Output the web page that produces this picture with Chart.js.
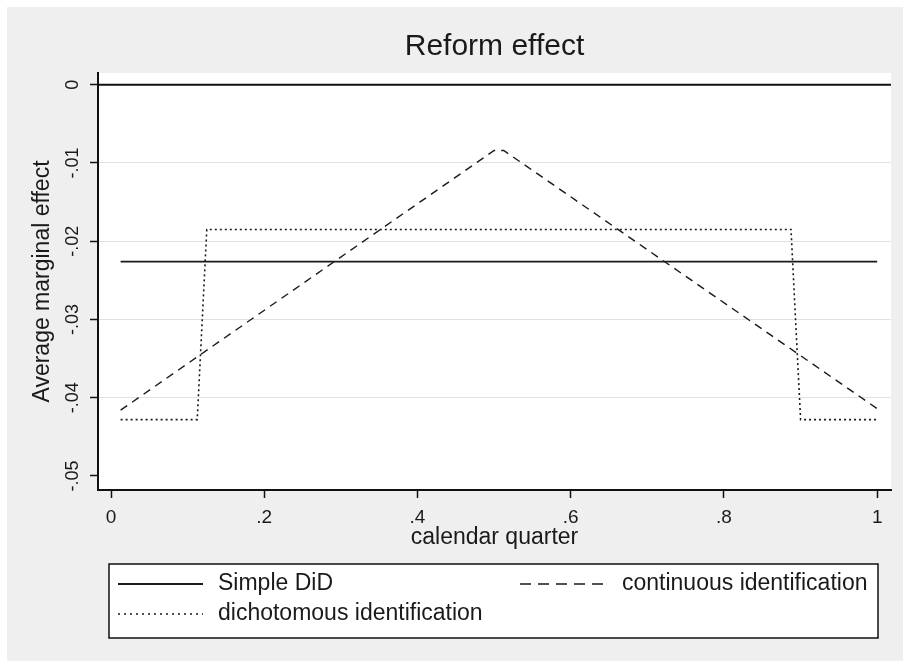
<!DOCTYPE html>
<html><head><meta charset="utf-8">
<script src="https://cdn.jsdelivr.net/npm/chart.js@4.4.1/dist/chart.umd.min.js"></script>
<style>html,body{margin:0;padding:0;background:#fff;overflow:hidden}#wrap{width:903px;height:661px}</style>
</head><body><div id="wrap"><canvas id="c" width="903" height="661"></canvas></div>
<script>
const chartTitle = "Reform effect";
const xAxisTitle = "calendar quarter";
const yAxisTitle = "Average marginal effect";
const xTickValues = [0, 0.2, 0.4, 0.6, 0.8, 1];
const xTickLabels = ["0", ".2", ".4", ".6", ".8", "1"];
const yTickValues = [0, -0.01, -0.02, -0.03, -0.04, -0.05];
const yTickLabels = ["0", "-.01", "-.02", "-.03", "-.04", "-.05"];
const seriesNames = ["Simple DiD", "continuous identification", "dichotomous identification"];
const simpleX = [0.0125, 1];
const simpleY = [-0.0226, -0.0226];
const contX = [0.0125, 0.5, 0.5125, 1];
const contY = [-0.0416, -0.0084, -0.0084, -0.0414];
const dichX = [0.0125, 0.1125, 0.125, 0.8875, 0.9, 1];
const dichY = [-0.0428, -0.0428, -0.0185, -0.0185, -0.0428, -0.0428];
const refLineY = 0;

const FONT = '"Liberation Sans", Arial, sans-serif';
const toPts = (xs, ys) => xs.map((x, i) => ({x: x, y: ys[i]}));

const decor = {
  id: 'decor',
  beforeDraw(chart) {
    const ctx = chart.ctx, a = chart.chartArea;
    ctx.save();
    ctx.fillStyle = '#ffffff';
    ctx.fillRect(0, 0, chart.width, chart.height);
    ctx.fillStyle = '#efefef';
    ctx.fillRect(7, 7, chart.width - 7, chart.height - 7);
    ctx.fillStyle = '#ffffff';
    ctx.fillRect(a.left, a.top, a.right - a.left, a.bottom - a.top);
    ctx.restore();
  },
  beforeDatasetsDraw(chart) {
    const ctx = chart.ctx, a = chart.chartArea, y = chart.scales.y;
    const py = y.getPixelForValue(refLineY);
    ctx.save();
    ctx.strokeStyle = '#111';
    ctx.lineWidth = 2;
    ctx.beginPath(); ctx.moveTo(a.left, py); ctx.lineTo(a.right, py); ctx.stroke();
    ctx.restore();
  },
  afterDraw(chart) {
    const ctx = chart.ctx, a = chart.chartArea, ys = chart.scales.y;
    const cx = (a.left + a.right) / 2;
    ctx.save();
    ctx.fillStyle = '#1a1a1a';
    ctx.textAlign = 'center';
    ctx.textBaseline = 'middle';
    ctx.font = '30px ' + FONT;
    ctx.fillText(chartTitle, cx, 47);
    ctx.font = '23px ' + FONT;
    ctx.fillText(xAxisTitle, cx, 538);
    ctx.font = '18px ' + FONT;
    ys.ticks.forEach((t) => {
      const py = ys.getPixelForValue(t.value);
      ctx.save();
      ctx.translate(73, py);
      ctx.rotate(-Math.PI / 2);
      ctx.fillText(yTickLabels[yTickValues.indexOf(t.value)], 0, 0);
      ctx.restore();
    });
    ctx.save();
    ctx.font = '23px ' + FONT;
    ctx.translate(43, (a.top + a.bottom) / 2);
    ctx.rotate(-Math.PI / 2);
    ctx.fillText(yAxisTitle, 0, 0);
    ctx.restore();
    // legend
    const L = 109, R = 878, T = 564, B = 638;
    ctx.fillStyle = '#ffffff';
    ctx.fillRect(L, T, R - L, B - T);
    ctx.strokeStyle = '#111';
    ctx.lineWidth = 1.5;
    ctx.strokeRect(L, T, R - L, B - T);
    const items = [
      {x1: 118, x2: 203, tx: 218, y: 584, ds: 0, dash: []},
      {x1: 520, x2: 608, tx: 622, y: 584, ds: 1, dash: [11, 7]},
      {x1: 118, x2: 203, tx: 218, y: 614, ds: 2, dash: [2, 4]}
    ];
    ctx.font = '23px ' + FONT;
    ctx.textAlign = 'left';
    items.forEach(it => {
      const d = chart.data.datasets[it.ds];
      ctx.save();
      ctx.strokeStyle = d.borderColor;
      ctx.lineWidth = d.borderWidth;
      ctx.setLineDash(it.dash);
      ctx.beginPath(); ctx.moveTo(it.x1, it.y); ctx.lineTo(it.x2, it.y); ctx.stroke();
      ctx.restore();
      ctx.fillStyle = '#1a1a1a';
      ctx.fillText(d.label, it.tx, it.y);
    });
    ctx.restore();
  }
};

new Chart(document.getElementById('c'), {
  type: 'line',
  data: {
    datasets: [
      {label: seriesNames[0], data: toPts(simpleX, simpleY), borderColor: '#1a1a1a', borderWidth: 1.8, pointRadius: 0, fill: false, tension: 0},
      {label: seriesNames[1], data: toPts(contX, contY), borderColor: '#1a1a1a', borderWidth: 1.4, borderDash: [8, 6], pointRadius: 0, fill: false, tension: 0},
      {label: seriesNames[2], data: toPts(dichX, dichY), borderColor: '#1a1a1a', borderWidth: 1.6, borderDash: [2, 3], pointRadius: 0, fill: false, tension: 0}
    ]
  },
  options: {
    responsive: false,
    animation: false,
    devicePixelRatio: 1,
    layout: {padding: {left: 0, right: 12, top: 73, bottom: 0}},
    plugins: {legend: {display: false}, title: {display: false}, tooltip: {enabled: false}},
    scales: {
      x: {
        type: 'linear', min: -0.017, max: 1.018,
        afterBuildTicks: s => { s.ticks = xTickValues.map(v => ({value: v})); },
        afterFit: s => { s.height = 171; },
        ticks: {
          callback: (v) => xTickLabels[xTickValues.indexOf(v)],
          color: '#1a1a1a', font: {family: FONT, size: 19, lineHeight: 1.2}, padding: 8, maxRotation: 0, autoSkip: false
        },
        grid: {drawOnChartArea: false, drawTicks: true, tickLength: 8, tickColor: '#111', tickWidth: 1.5},
        border: {display: true, color: '#111', width: 2}
      },
      y: {
        type: 'linear', min: -0.0518, max: 0.0015,
        afterBuildTicks: s => { s.ticks = yTickValues.map(v => ({value: v})); },
        afterFit: s => { s.width = 98; },
        ticks: {
          callback: (v) => yTickLabels[yTickValues.indexOf(v)],
          color: 'rgba(0,0,0,0)', font: {family: FONT, size: 18}, autoSkip: false
        },
        grid: {
          drawOnChartArea: true, drawTicks: true, tickLength: 8, tickColor: '#111', tickWidth: 1.5,
          color: c => (c.tick && (c.tick.value === -0.05 || c.tick.value === 0)) ? 'rgba(0,0,0,0)' : '#e2e2e2',
          lineWidth: 1
        },
        border: {display: true, color: '#111', width: 2}
      }
    }
  },
  plugins: [decor]
});
</script>
</body></html>
